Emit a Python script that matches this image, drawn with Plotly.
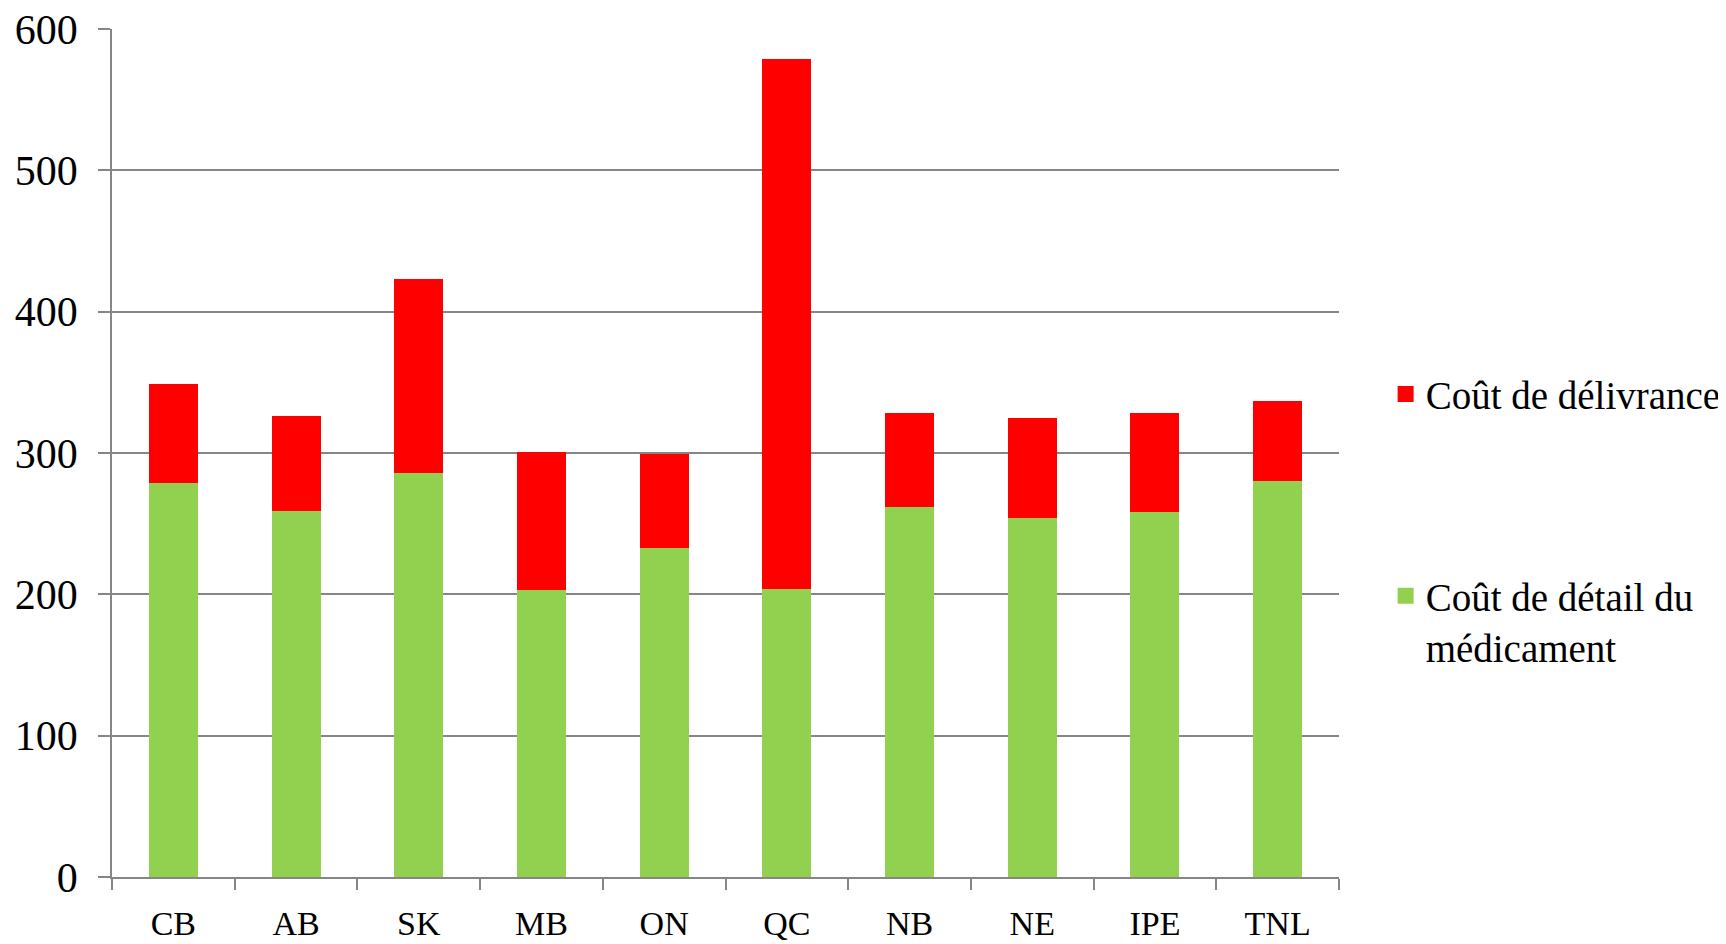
import plotly.graph_objects as go

provinces = ["CB", "AB", "SK", "MB", "ON", "QC", "NB", "NE", "IPE", "TNL"]
cout_detail = [279, 259, 286, 203, 233, 204, 262, 254, 258, 280]
cout_delivrance = [70, 67, 137, 98, 66, 375, 66, 71, 70, 57]

name_deliv = "Coût de délivrance"
name_detail = "Coût de détail du<br>médicament"
green = "#92D050"
red = "#FF0000"
grid = "#868686"
font_family = "Liberation Serif"

fig = go.Figure()
fig.add_trace(go.Bar(x=provinces, y=cout_detail, marker=dict(color=green, line=dict(width=0)),
                     name=name_detail, showlegend=False))
fig.add_trace(go.Bar(x=provinces, y=cout_delivrance, marker=dict(color=red, line=dict(width=0)),
                     name=name_deliv, showlegend=False))
# legend entries
fig.add_trace(go.Scatter(x=[None], y=[None], mode="markers", name=name_deliv, legendgroup="a",
                         marker=dict(symbol="square", size=18, color=red)))
fig.add_trace(go.Scatter(x=[None], y=[None], mode="markers", name=name_detail, legendgroup="b",
                         marker=dict(symbol="square", size=18, color=green)))

fig.update_layout(
    barmode="stack",
    bargap=0.6,
    width=1726, height=944,
    margin=dict(l=104, r=395, t=21, b=75, autoexpand=False),
    paper_bgcolor="white", plot_bgcolor="white",
    font=dict(family=font_family, color="black"),
    legend=dict(x=1.038, y=0.607, xanchor="left", yanchor="top",
                font=dict(size=39, family=font_family, color="black"),
                traceorder="grouped", tracegroupgap=148, valign="top",
                bgcolor="rgba(0,0,0,0)"),
    xaxis=dict(type="category", showgrid=False, showline=True, linecolor=grid, linewidth=1.5,
               ticks="outside", tickson="boundaries", ticklen=11, tickcolor=grid, tickwidth=1.5,
               tickfont=dict(size=34), ticklabelstandoff=15, automargin=False,
               ticklabeloverflow="allow"),
    yaxis=dict(range=[0, 600], dtick=100, showgrid=True, gridcolor=grid, gridwidth=1.5,
               showline=True, linecolor=grid, linewidth=1.5, zeroline=False,
               ticks="outside", ticklen=12, tickcolor=grid, tickwidth=1.5,
               tickfont=dict(size=42), ticklabelstandoff=12, automargin=False,
               ticklabeloverflow="allow"),
)

fig.write_html("out.html")
